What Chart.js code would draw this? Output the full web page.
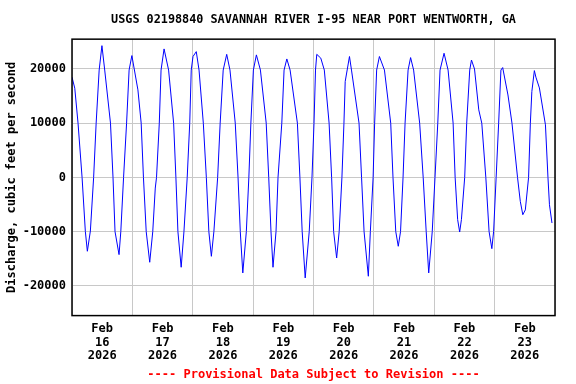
<!DOCTYPE html>
<html>
<head>
<meta charset="utf-8">
<script src="https://cdn.jsdelivr.net/npm/chart.js@4"></script>
<style>
  html, body { margin: 0; padding: 0; background: #fff; }
</style>
</head>
<body>
<canvas id="chart_1" width="576" height="384"></canvas>
<script>
// hours since Feb 16 2026 00:00
const hours = [
  0, 1.1, 2.4, 4.0, 5.3, 6.1, 7.3, 8.6, 9.6, 10.8, 11.9, 13.0, 15.3, 16.3, 17.1, 18.7, 19.4, 20.5, 21.7, 22.7,
  23.8, 26.2, 27.5, 28.4, 29.5, 30.9, 32.1, 33.1, 33.6, 34.7, 35.4, 36.6, 38.4, 40.4, 41.3, 42.1, 43.4, 44.5,
  45.8, 46.8, 47.4, 48.1, 49.4, 50.5, 52.2, 53.4, 54.4, 55.4, 56.4, 57.9, 58.9, 60.1, 61.5, 62.8, 64.9, 66.0,
  66.9, 67.9, 69.3, 70.3, 71.1, 72.1, 73.3, 74.9, 77.2, 78.2, 79.1, 79.9, 81.1, 81.9, 83.4, 84.3, 85.4, 86.7,
  89.6, 90.6, 91.5, 92.7, 94.3, 95.4, 96.2, 96.8, 97.3, 98.9, 100.3, 102.2, 103.2, 104.0, 105.2, 106.2, 107.3,
  108.1, 108.6, 110.3, 111.1, 114.1, 115.1, 116.1, 117.8, 118.6, 119.7, 120.3, 121.1, 122.2, 124.2, 126.7,
  127.6, 128.7, 129.7, 130.6, 131.6, 132.4, 133.6, 134.6, 135.8, 138.2, 139.6, 140.8, 141.8, 143.2, 144.3,
  145.4, 146.3, 147.9, 149.5, 151.5, 152.3, 153.3, 154.1, 154.8, 156.1, 156.9, 158.1, 158.8, 160.0, 161.7,
  162.9, 164.5, 165.8, 166.9, 167.6, 168.6, 169.6, 170.5, 171.2, 173.3, 174.9, 177.1, 178.2, 179.2, 180.2,
  181.5, 182.2, 182.8, 183.8, 184.4, 185.8, 188.2, 189.2, 189.8, 190.8
];
// discharge, cfs
const discharge = [
  18500, 16450, 10000, 0, -9950, -13630, -9900, 0, 10000, 19800, 24300, 19800, 10000, 0, -10000, -14250, -10000, 0, 10000, 19800,
  22470, 16140, 10000, 0, -10000, -15660, -10000, -1970, 0, 10000, 19800, 23700, 19800, 10000, 0, -10000, -16580, -10000,
  0, 10000, 19800, 22300, 23200, 19800, 10000, 0, -10000, -14560, -10000, 0, 10000, 19800, 22700, 19800, 10000, 0,
  -10000, -17630, -10000, 0, 10000, 19800, 22600, 19800, 10000, 0, -10000, -16580, -10000, 0, 10000, 19800, 21850, 19800,
  10000, 0, -10000, -18550, -10000, 0, 10000, 19800, 22700, 22000, 19800, 10000, 0, -10000, -14870, -10000, 0,
  10000, 17680, 22300, 19800, 10000, 0, -10000, -18240, -10000, 0, 10000, 19800, 22300, 19800, 10000,
  0, -10000, -12710, -10000, 0, 10000, 19800, 22100, 19800, 10000, 0, -10000, -17630, -10000, 0,
  10000, 19800, 22900, 19800, 10000, 0, -7800, -10080, -7800, 0, 10000, 19800, 21650, 20000, 12450,
  10000, 0, -10000, -13150, -10000, 0, 10000, 19800, 20260, 15200, 10000, 0, -4420, -6890, -6000,
  0, 10000, 15840, 19700, 18500, 16500, 9690, 0, -5050, -8420
];
const dayLabels = ['16', '17', '18', '19', '20', '21', '22', '23'];
const yTicks = [-20000, -10000, 0, 10000, 20000];

const points = hours.map(function (h, i) { return { x: h, y: discharge[i] }; });
const monoFont = { family: "'DejaVu Sans Mono', monospace", size: 12, weight: 'bold' };

const frame = {
    id: 'frame',
    afterDraw: function (chart) {
        const a = chart.chartArea;
        const ctx = chart.ctx;
        ctx.save();
        ctx.strokeStyle = '#000';
        ctx.lineWidth = 1.5;
        ctx.strokeRect(a.left, a.top, a.right - a.left, a.bottom - a.top);
        ctx.restore();
    }
};

new Chart(document.getElementById('chart_1'), {
    type: 'line',
    data: {
        datasets: [{
            data: points,
            borderColor: '#0000ff',
            borderWidth: 1,
            pointRadius: 0,
            tension: 0,
            fill: false
        }]
    },
    options: {
        responsive: false,
        animation: false,
        layout: { padding: { left: 0, right: 21, top: 0, bottom: 0 } },
        plugins: {
            legend: { display: false },
            tooltip: { enabled: false },
            title: {
                display: true,
                fullSize: false,
                text: 'USGS 02198840 SAVANNAH RIVER I-95 NEAR PORT WENTWORTH, GA',
                color: '#000',
                font: { family: monoFont.family, size: 11.8, weight: 'bold' },
                padding: { top: 13, bottom: 12 }
            },
            subtitle: {
                display: true,
                fullSize: false,
                position: 'bottom',
                text: '---- Provisional Data Subject to Revision ----',
                color: '#ff0000',
                font: monoFont,
                padding: { top: 3, bottom: 2 }
            }
        },
        scales: {
            x: {
                type: 'linear',
                min: 0,
                max: 192,
                afterBuildTicks: function (scale) {
                    const t = [];
                    for (let v = 0; v <= 192; v += 12) t.push({ value: v });
                    scale.ticks = t;
                },
                afterFit: function (scale) { scale.height = 49; },
                grid: {
                    drawTicks: false,
                    color: function (c) {
                        return c.tick && c.tick.value % 24 === 0 ? '#c8c8c8' : 'rgba(0,0,0,0)';
                    }
                },
                border: { display: false },
                ticks: {
                    autoSkip: false,
                    maxRotation: 0,
                    padding: 7,
                    color: '#000',
                    font: { family: monoFont.family, size: 12, weight: 'bold', lineHeight: 1.1 },
                    callback: function (v) {
                        if (v % 24 !== 12) return '';
                        return ['Feb', dayLabels[Math.floor(v / 24)], '2026'];
                    }
                }
            },
            y: {
                min: -25500,
                max: 25500,
                afterBuildTicks: function (scale) {
                    scale.ticks = yTicks.map(function (v) { return { value: v }; });
                },
                afterFit: function (scale) { scale.width = 72; },
                grid: { drawTicks: false, color: '#c8c8c8' },
                border: { display: false },
                ticks: {
                    padding: 6,
                    color: '#000',
                    font: monoFont,
                    callback: function (v) { return String(v); }
                },
                title: {
                    display: true,
                    text: 'Discharge, cubic feet per second',
                    color: '#000',
                    font: monoFont,
                    padding: { top: 5, bottom: 0 }
                }
            }
        }
    },
    plugins: [frame]
});
</script>
</body>
</html>
